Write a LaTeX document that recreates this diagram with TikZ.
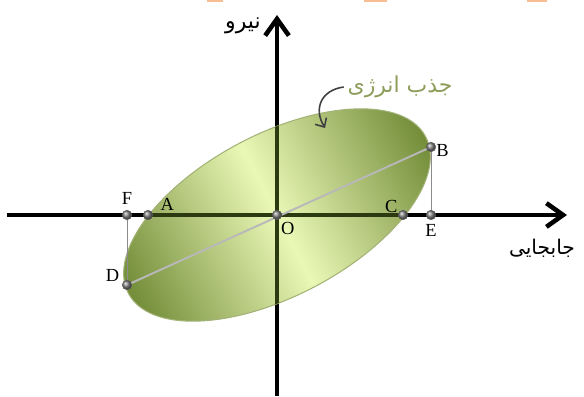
\documentclass[tikz,border=0pt]{standalone}
\usepackage{fontspec}
\setmainfont{Liberation Serif}
\newfontfamily\farsifont[Script=Arabic]{DejaVu Sans}
\TeXXeTstate=1
\usetikzlibrary{positioning,arrows.meta}
\definecolor{loopDark}{HTML}{728C38}
\definecolor{loopLight}{HTML}{EAF8B6}
\definecolor{loopEdge}{HTML}{A3B377}
\definecolor{axisGreen}{HTML}{2C3A12}
\definecolor{energyGreen}{HTML}{8D9D5A}
\definecolor{topOrange}{HTML}{F8BD90}
\tikzset{
  node distance=2pt,
  axisline/.style={line width=2.6pt, -{Straight Barb[length=9.5pt,width=13.5pt]}},
  hyst/.style={draw=loopEdge, line width=0.6pt, left color=loopDark, right color=loopDark, middle color=loopLight},
  chord/.style={line width=1.1pt, draw=black!28},
  drop/.style={line width=0.5pt, draw=black!45},
  pt/.style={circle, inner sep=0pt, minimum size=5.4pt, ball color=black!50, draw=black!65, line width=0.3pt},
  lbl/.style={font=\fontsize{10.5}{12}\selectfont, inner sep=1pt},
  fa/.style={font=\farsifont\fontsize{11}{13}\selectfont, inner sep=0pt},
  curl/.style={line width=0.9pt, draw=black!75, -{Straight Barb[length=4pt,width=7.5pt]}},
}

\begin{document}
\begin{tikzpicture}[x=0.02cm, y=0.02cm]
  \useasboundingbox (-277,-181) rectangle (307,215);
  % marks cut off at the top edge
  \fill[topOrange] (-70,213) rectangle (-54,215);
  \fill[topOrange] (87,213) rectangle (110,215);
  \fill[topOrange] (250,213) rectangle (270,215);

  % axes
  \coordinate (xtail) at (-270,0);
  \coordinate (xtip) at (290,0);
  \coordinate (ytail) at (0,-181);
  \coordinate (ytip) at (0,200);
  \draw[axisline] (xtail) -- (xtip);
  \draw[axisline] (ytail) -- (ytip);

  % loop
  \path[hyst, transform canvas={rotate=27.8}] (0,0) ellipse [x radius=168, y radius=81];
  \begin{scope}
    \clip[rotate=27.8] (0,0) ellipse [x radius=168, y radius=81];
    \draw[line width=2.6pt, axisGreen] (xtail) -- (xtip) (ytail) -- (ytip);
  \end{scope}

  \coordinate (pO) at (0,0);
  \coordinate (pA) at (-129,0);
  \coordinate (pC) at (126,0);
  \coordinate (pE) at (154,0);
  \coordinate (pF) at (-150,0);
  \coordinate (pB) at (154,68);
  \coordinate (pD) at (-150,-70);
  \draw[chord] (pB) -- (pD);
  \draw[drop] (pB) -- (pE);
  \draw[drop] (pF) -- (pD);

  \node[pt] (O) at (pO) {};
  \node[pt] (A) at (pA) {};
  \node[pt] (C) at (pC) {};
  \node[pt] (E) at (pE) {};
  \node[pt] (F) at (pF) {};
  \node[pt] (B) at (pB) {};
  \node[pt] (D) at (pD) {};

  \node[lbl, above=2pt of F] (lF) {F};
  \node[lbl, above right=-0.5pt and 4pt of A] (lA) {A};
  \node[lbl, below right=1.2pt and -0.9pt of O] (lO) {O};
  \node[lbl, above left=-1.8pt and 0pt of C] (lC) {C};
  \node[lbl, below=1.5pt of E] (lE) {E};
  \node[lbl, right=-1pt of B, yshift=-2pt] (lB) {B};
  \node[lbl, above left=-1.1pt and 1.2pt of D] (lD) {D};

  % persian captions
  \node[fa, font=\farsifont\fontsize{12.5}{14}\selectfont, anchor=east] (force) at (-16,189) {\beginR نیرو\endR};
  \node[fa, font=\farsifont\fontsize{11.5}{13}\selectfont] (disp) at (265,-33) {\beginR جابجایی\endR};
  \node[fa, font=\farsifont\fontsize{12.5}{14}\selectfont, text=energyGreen] (energy) at (123,128) {\beginR جذب انرژی\endR};
  \coordinate (dent) at (48,87);
  \draw[curl] ([xshift=-2pt]energy.west) .. controls +(-22,-3) and +(-12,20) .. (dent);
\end{tikzpicture}
\end{document}
